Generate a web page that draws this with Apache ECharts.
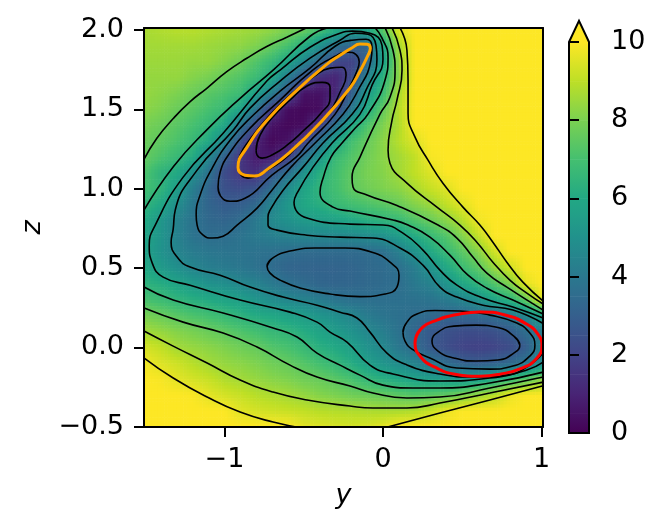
<!DOCTYPE html>
<html><head><meta charset="utf-8">
<script src="https://cdn.jsdelivr.net/npm/echarts@6/dist/echarts.min.js"></script>
<style>html,body{margin:0;padding:0;background:#fff}#c{width:664px;height:532px}</style>
</head><body><div id="c"></div>
<script>
const yTicks=[-1,0,1];
const zTicks=[-0.5,0,0.5,1,1.5,2];
const cbarTicks=[0,2,4,6,8,10];
const gridY=[-1.5,-1.4,-1.3,-1.2,-1.1,-1,-0.9,-0.8,-0.7,-0.6,-0.5,-0.4,-0.3,-0.2,-0.1,0,0.1,0.2,0.3,0.4,0.5,0.6,0.7,0.8,0.9,1];
const gridZ=[2,1.9,1.8,1.7,1.6,1.5,1.4,1.3,1.2,1.1,1,0.9,0.8,0.7,0.6,0.5,0.4,0.3,0.2,0.1,0,-0.1,-0.2,-0.3,-0.4,-0.5];
const energy=[
[8.7,8.8,8.9,8.9,8.8,8.7,8.6,8.5,8.3,8.0,7.7,7.05,6.25,5.6,6.05,7.45,9.5,10,10,10,10,10,10,10,10,10],
[8.6,8.6,8.6,8.6,8.5,8.4,8.3,8.05,7.6,7.05,6.15,4.95,3.8,3.25,3.25,5.8,8.6,10,10,10,10,10,10,10,10,10],
[8.5,8.5,8.5,8.4,8.4,8.15,7.8,7.25,6.7,5.8,4.6,3.25,2.2,1.9,3.25,5.6,8.4,10,10,10,10,10,10,10,10,10],
[8.4,8.4,8.4,8.15,7.95,7.6,7.25,6.8,5.95,4.15,2.6,1.3,1.0,2.3,4.4,6.4,8.25,10,10,10,10,10,10,10,10,10],
[8.4,8.25,8.05,7.7,7.4,7.15,6.8,5.6,4.15,2.6,0.5,0.5,1.1,3.0,5.4,6.8,8.7,10,10,10,10,10,10,10,10,10],
[8.25,8.05,7.7,7.4,7.05,6.7,5.8,3.85,1.6,0.35,0.2,0.3,2.0,3.95,6.05,7.6,8.9,10,10,10,10,10,10,10,10,10],
[7.95,7.7,7.4,7.05,6.6,5.95,3.95,2.2,0.5,0.2,0.3,1.8,3.8,5.95,7.15,8.05,8.8,10,10,10,10,10,10,10,10,10],
[7.7,7.5,7.15,6.7,6.05,4.6,2.6,1.0,0.2,0.5,1.8,3.8,5.7,6.95,7.6,8.25,8.9,9.5,10,10,10,10,10,10,10,10],
[7.6,7.15,6.7,6.15,4.6,3.1,1.6,0.7,0.7,1.7,3.8,5.25,6.7,7.25,7.8,8.25,8.6,9.05,9.9,10,10,10,10,10,10,10],
[7.15,6.4,6.05,4.95,3.8,2.3,1.6,1.3,2.7,3.7,5.05,6.25,6.95,7.5,7.95,8.15,8.6,9.05,9.5,10,10,10,10,10,10,10],
[6.95,6.5,5.6,4.25,3.25,2.5,2.3,2.6,3.6,4.8,5.8,6.5,6.95,7.5,7.8,8.05,8.25,8.7,9.15,9.5,10,10,10,10,10,10],
[6.5,5.95,4.95,3.95,3.25,2.9,3.0,3.4,4.5,5.25,5.95,6.25,6.7,6.95,7.15,7.4,7.7,8.15,8.5,9.05,9.6,10,10,10,10,10],
[6.05,5.25,4.4,3.8,3.4,3.25,3.5,4.05,4.7,5.05,5.4,5.55,5.7,5.95,6.25,6.5,6.7,7.25,7.7,8.25,8.9,9.8,10,10,10,10],
[5.8,5.15,4.4,3.8,3.6,3.6,3.8,4.05,4.25,4.4,4.5,4.55,4.6,4.65,4.75,4.95,5.45,6.05,6.65,7.25,8.1,9.05,10,10,10,10],
[5.7,5.05,4.5,4.15,3.95,3.85,3.8,3.75,3.7,3.55,3.5,3.45,3.45,3.45,3.5,3.65,4.25,5.05,5.95,6.7,7.4,8.15,9.25,10,10,10],
[5.95,5.4,4.95,4.5,4.25,4.1,3.95,3.75,3.5,3.25,3.2,3.2,3.2,3.25,3.4,3.5,3.7,4.2,5.05,5.95,6.8,7.4,8.4,9.25,10,10],
[6.4,6.15,5.8,5.4,5.05,4.9,4.6,4.4,4.05,3.7,3.5,3.3,3.25,3.3,3.4,3.5,3.6,4.05,4.4,5.15,5.9,6.5,7.25,8.05,9.6,10],
[7.05,6.8,6.5,6.25,6.05,5.8,5.6,5.15,4.8,4.6,4.45,4.15,3.85,3.7,3.65,3.65,3.7,3.75,3.85,4.15,4.5,5.05,5.8,6.4,7.6,9.6],
[7.95,7.7,7.4,7.15,6.95,6.7,6.4,6.1,5.95,5.7,5.5,5.15,4.9,4.55,4.15,3.85,3.7,3.55,3.4,3.3,3.3,3.4,3.55,3.95,4.6,5.8],
[8.6,8.4,8.15,7.95,7.7,7.5,7.2,6.95,6.65,6.5,6.15,5.8,5.45,5.05,4.65,4.25,3.75,3.3,2.8,2.5,2.35,2.35,2.5,2.9,3.6,4.15],
[9.35,9.05,8.6,8.4,8.25,8.05,7.8,7.6,7.25,7.05,6.7,6.25,6.0,5.6,5.05,4.6,3.95,3.5,2.8,2.35,2.0,1.9,2.0,2.3,2.9,4.4],
[9.8,9.5,9.25,8.9,8.6,8.4,8.25,8.05,7.8,7.6,7.3,6.95,6.6,6.15,5.6,5.15,4.75,4.4,3.95,3.55,3.1,2.9,3.1,3.4,3.95,4.7],
[10,9.9,9.6,9.35,9.15,8.8,8.6,8.4,8.2,8.05,7.8,7.65,7.4,7.05,6.6,6.25,5.95,5.7,5.55,5.45,5.3,5.5,6.05,6.7,7.4,8.25],
[10,10,10,9.95,9.6,9.35,9.15,8.9,8.75,8.6,8.4,8.15,8.0,7.8,7.7,7.6,7.45,7.3,7.4,7.55,7.95,8.5,8.9,9.7,10,10],
[10,10,10,10,10,10,9.55,9.35,9.25,9.15,9.05,8.9,8.85,8.8,8.75,8.7,8.7,8.8,9.15,9.7,10,10,10,10,10,10],
[10,10,10,10,10,10,10,10,10,10,9.6,9.5,9.4,9.35,9.4,9.6,10,10,10,10,10,10,10,10,10,10]
];
const viridis=['#440154','#482475','#414487','#355f8d','#2a788e','#21918c','#22a884','#44bf70','#7ad151','#bddf26','#fde725'];
const cbarBands=[0,0.5,1,1.5,2,2.5,3,3.5,4,4.5,5,5.5,6,6.5,7,7.5,8,8.5,9,9.5,10];
const cbarArrowTop=10.54;

const lvl1=[[-0.8,1.243],[-0.775,1.338],[-0.7,1.446],[-0.586,1.559],[-0.479,1.647],[-0.384,1.67],[-0.334,1.641],[-0.334,1.571],[-0.397,1.47],[-0.498,1.369],[-0.605,1.274],[-0.7,1.212],[-0.762,1.193],[-0.794,1.212]];
const lvl2=[[-0.914,1.149],[-0.895,1.086],[-0.851,1.067],[-0.756,1.104],[-0.63,1.18],[-0.523,1.288],[-0.347,1.47],[-0.271,1.608],[-0.233,1.715],[-0.258,1.766],[-0.334,1.76],[-0.441,1.703],[-0.586,1.59],[-0.731,1.444],[-0.851,1.294],[-0.901,1.212]];
const lvl3=[[-1.04,1.011],[-1.025,0.955],[-0.964,0.921],[-0.87,0.94],[-0.7,1.086],[-0.548,1.199],[-0.472,1.288],[-0.302,1.47],[-0.214,1.634],[-0.165,1.74],[-0.15,1.8],[-0.17,1.845],[-0.22,1.86],[-0.302,1.835],[-0.46,1.734],[-0.649,1.558],[-0.838,1.382],[-0.976,1.211],[-1.027,1.104]];
const lvl4=[[-1.077,0.689],[-1.008,0.701],[-0.92,0.771],[-0.794,0.878],[-0.699,0.992],[-0.58,1.136],[-0.428,1.288],[-0.252,1.47],[-0.164,1.608],[-0.076,1.81],[-0.069,1.892],[-0.107,1.942],[-0.195,1.936],[-0.302,1.898],[-0.46,1.76],[-0.649,1.615],[-0.819,1.463],[-0.964,1.306],[-1.077,1.13],[-1.153,0.96],[-1.178,0.834],[-1.172,0.771],[-1.134,0.707]];
const lvl4mid=[[-0.731,0.512],[-0.687,0.569],[-0.586,0.607],[-0.428,0.626],[-0.239,0.626],[-0.069,0.6],[0.044,0.537],[0.101,0.455],[0.088,0.38],[0.013,0.336],[-0.145,0.32],[-0.334,0.336],[-0.523,0.374],[-0.649,0.424],[-0.712,0.468]];
const lvl3right=[[0.863,0.014],[0.825,0.071],[0.725,0.125],[0.586,0.14],[0.447,0.134],[0.347,0.096],[0.309,0.04],[0.347,-0.023],[0.447,-0.067],[0.586,-0.086],[0.725,-0.08],[0.825,-0.036]];
const lvl4right=[[0.126,0.096],[0.151,0.159],[0.214,0.21],[0.328,0.232],[0.485,0.229],[0.674,0.203],[0.844,0.153],[0.926,0.09],[0.958,0.014],[0.926,-0.055],[0.819,-0.118],[0.674,-0.137],[0.466,-0.13],[0.296,-0.067],[0.183,-0.011],[0.139,0.04]];
const lvl5=[[1.01,0.15],[0.819,0.235],[0.63,0.266],[0.466,0.317],[0.359,0.38],[0.252,0.518],[0.107,0.626],[-0.063,0.689],[-0.271,0.695],[-0.479,0.707],[-0.668,0.739],[-0.725,0.771],[-0.725,0.821],[-0.712,0.865],[-0.63,0.991],[-0.504,1.136],[-0.378,1.288],[-0.195,1.47],[-0.107,1.621],[-0.038,1.816],[-0.044,1.904],[-0.095,1.974],[-0.176,1.98],[-0.271,1.936],[-0.46,1.823],[-0.649,1.678],[-0.838,1.508],[-0.945,1.369],[-1.172,1.117],[-1.31,0.865],[-1.323,0.745],[-1.336,0.663],[-1.298,0.569],[-1.216,0.506],[-1.027,0.455],[-0.838,0.38],[-0.63,0.317],[-0.416,0.266],[-0.271,0.222],[-0.164,0.185],[-0.082,0.096],[0.025,-0.036],[0.151,-0.111],[0.359,-0.168],[0.567,-0.187],[0.781,-0.175],[0.907,-0.124],[1.01,-0.036]];
const lvl6=[[1.01,0.185],[0.819,0.254],[0.63,0.311],[0.466,0.392],[0.359,0.487],[0.252,0.613],[0.126,0.72],[0,0.771],[-0.208,0.777],[-0.479,0.815],[-0.561,0.915],[-0.542,0.972],[-0.441,1.136],[-0.321,1.288],[-0.145,1.47],[-0.069,1.653],[0,1.816],[-0.006,1.904],[-0.082,1.98],[-0.195,1.993],[-0.271,1.98],[-0.46,1.892],[-0.649,1.747],[-0.731,1.68],[-1.008,1.35],[-1.26,1.073],[-1.436,0.771],[-1.474,0.644],[-1.455,0.531],[-1.386,0.443],[-1.216,0.392],[-0.901,0.298],[-0.586,0.222],[-0.416,0.159],[-0.334,0.096],[-0.227,0.033],[-0.082,-0.112],[0.063,-0.168],[0.359,-0.212],[0.674,-0.193],[0.907,-0.143],[1.01,-0.093]];
const lvl7a=[[-1.51,0.86],[-1.321,1.14],[-1.111,1.371],[-0.901,1.57],[-0.691,1.749],[-0.46,1.961],[-0.347,2.015]];
const lvl7b=[[-0.05,2.015],[-0.006,1.949],[0.032,1.829],[0.013,1.685],[-0.095,1.47],[-0.176,1.381],[-0.258,1.288],[-0.328,1.199],[-0.378,1.066],[-0.397,0.978],[-0.315,0.884],[-0.208,0.859],[0.063,0.803],[0.158,0.771],[0.296,0.695],[0.422,0.581],[0.536,0.455],[0.655,0.373],[0.819,0.298],[1.01,0.21]];
const lvl7c=[[-1.51,0.382],[-1.323,0.298],[-1.008,0.216],[-0.693,0.122],[-0.542,0.065],[-0.416,-0.036],[-0.271,-0.112],[-0.145,-0.175],[0,-0.238],[0.189,-0.256],[0.359,-0.256],[0.674,-0.225],[1.01,-0.156]];
const lvl8a=[[-1.51,1.18],[-1.426,1.318],[-1.321,1.444],[-1.216,1.549],[-1.111,1.633],[-0.985,1.738],[-0.859,1.822],[-0.733,1.896],[-0.607,1.955],[-0.481,2.015]];
const lvl8b=[[0.013,2.015],[0.063,1.873],[0.076,1.747],[0.044,1.577],[-0.019,1.47],[-0.145,1.199],[-0.195,1.073],[-0.189,1.011],[-0.101,0.96],[0.088,0.894],[0.347,0.771],[0.466,0.689],[0.567,0.569],[0.655,0.468],[0.781,0.38],[1.01,0.235]];
const lvl8c=[[-1.51,0.25],[-1.26,0.159],[-1.008,0.09],[-0.794,0.002],[-0.586,-0.112],[-0.416,-0.187],[-0.208,-0.244],[-0.063,-0.288],[0.151,-0.319],[0.359,-0.313],[0.674,-0.256],[1.01,-0.187]];
const lvl9a=[[0.057,2.015],[0.107,1.873],[0.12,1.747],[0.088,1.558],[0.057,1.432],[0.032,1.243],[0.044,1.161],[0.151,1.035],[0.34,0.884],[0.485,0.771],[0.592,0.663],[0.693,0.537],[0.8,0.424],[0.907,0.342],[1.01,0.273]];
const lvl9b=[[-1.51,0.105],[-1.323,0.008],[-1.109,-0.099],[-0.901,-0.206],[-0.693,-0.282],[-0.479,-0.332],[-0.208,-0.37],[-0.063,-0.382],[0.151,-0.382],[0.359,-0.351],[0.674,-0.288],[1.01,-0.219]];
const lvl10a=[[0.107,2.015],[0.151,1.873],[0.158,1.684],[0.158,1.476],[0.202,1.325],[0.284,1.18],[0.378,1.035],[0.504,0.884],[0.611,0.771],[0.693,0.663],[0.781,0.537],[0.882,0.411],[1.01,0.292]];
const lvl10b=[[-1.51,-0.064],[-1.323,-0.193],[-1.109,-0.313],[-0.901,-0.408],[-0.693,-0.471],[-0.504,-0.51]];
const lvl10c=[[0,-0.51],[0.359,-0.414],[0.674,-0.332],[1.01,-0.242]];
const orangeBasin=[[-0.914,1.136],[-0.905,1.105],[-0.87,1.085],[-0.81,1.08],[-0.725,1.125],[-0.586,1.231],[-0.397,1.414],[-0.208,1.635],[-0.145,1.74],[-0.095,1.84],[-0.08,1.885],[-0.1,1.91],[-0.145,1.912],[-0.2,1.885],[-0.271,1.841],[-0.353,1.785],[-0.542,1.621],[-0.731,1.432],[-0.857,1.262]];
const redBasin=[[0.202,0.027],[0.233,0.109],[0.34,0.172],[0.485,0.21],[0.611,0.223],[0.769,0.204],[0.895,0.153],[0.977,0.084],[1.002,0.008],[0.97,-0.068],[0.876,-0.131],[0.737,-0.169],[0.611,-0.182],[0.454,-0.169],[0.328,-0.125],[0.239,-0.062]];

const closedContours=[lvl1,lvl2,lvl3,lvl4,lvl4mid,lvl3right,lvl4right];
const openContours=[lvl5,lvl6,lvl7a,lvl7b,lvl7c,lvl8a,lvl8b,lvl8c,lvl9a,lvl9b,lvl10a,lvl10b,lvl10c];

function hex(c){return [1,3,5].map(i=>parseInt(c.substr(i,2),16));}
const vir=viridis.map(hex);
function colorOf(v){
  let t=Math.max(0,Math.min(10,v));
  let i=Math.min(9,Math.floor(t)),f=t-i;
  const a=vir[i],b=vir[i+1];
  return 'rgb('+a.map((x,k)=>Math.round(x+(b[k]-x)*f)).join(',')+')';
}
const nodes=[];
gridZ.forEach((z,j)=>gridY.forEach((y,i)=>nodes.push([y,z,energy[j][i],i,j])));
const SUB=5;
function renderField(params,api){
  const i=api.value(3),j=api.value(4);
  if(i>=gridY.length-1||j>=gridZ.length-1)return null;
  const p0=api.coord([gridY[i],gridZ[j]]),p1=api.coord([gridY[i+1],gridZ[j+1]]);
  const w=(p1[0]-p0[0])/SUB,h=(p1[1]-p0[1])/SUB;
  const a=energy[j][i],b=energy[j][i+1],c=energy[j+1][i],d=energy[j+1][i+1];
  const ch=[];
  for(let m=0;m<SUB;m++)for(let n=0;n<SUB;n++){
    const u=(n+0.5)/SUB,s=(m+0.5)/SUB;
    const v=a*(1-u)*(1-s)+b*u*(1-s)+c*(1-u)*s+d*u*s;
    let x=p0[0]+n*w,yy=p0[1]+m*h,ww=w+0.6,hh=h+0.6;
    if(i===0&&n===0){x-=4;ww+=4;}
    if(j===0&&m===0){yy-=4;hh+=4;}
    if(i===gridY.length-2&&n===SUB-1)ww+=4;
    if(j===gridZ.length-2&&m===SUB-1)hh+=4;
    ch.push({type:'rect',shape:{x:x,y:yy,width:ww,height:hh},style:{fill:colorOf(v)}});
  }
  return {type:'group',children:ch};
}
function renderBand(params,api){
  const v=api.value(0),next=cbarBands[params.dataIndex+1];
  if(next===undefined)return null;
  const a=api.coord([0,v]),b=api.coord([1,next]);
  return {type:'rect',shape:{x:a[0],y:b[1],width:b[0]-a[0],height:a[1]-b[1]+0.5},
    style:{fill:new echarts.graphic.LinearGradient(0,1,0,0,[{offset:0,color:colorOf(v)},{offset:1,color:colorOf(next)}])}};
}
function renderArrow(params,api){
  const pts=[api.coord([0,0]),api.coord([1,0]),api.coord([1,10]),api.coord([0.5,cbarArrowTop]),api.coord([0,10])];
  const tri=[pts[2],pts[3],pts[4]];
  return {type:'group',children:[
    {type:'polygon',shape:{points:tri},style:{fill:'#fde725',stroke:null}},
    {type:'polygon',shape:{points:pts},style:{fill:'none',stroke:'#000',lineWidth:2}}
  ]};
}
const lineBase={type:'line',showSymbol:false,symbol:'none',smooth:0.5,clip:true,silent:true,animation:false,xAxisIndex:0,yAxisIndex:0,z:5};
const closeLoop=c=>c.concat([c[0],c[1]]);
const series=[{type:'custom',renderItem:renderField,data:nodes,encode:{x:0,y:1},clip:true,silent:true,animation:false,xAxisIndex:0,yAxisIndex:0,z:2,progressive:0}];
closedContours.forEach(c=>series.push(Object.assign({},lineBase,{data:closeLoop(c),lineStyle:{color:'#000',width:1.6}})));
openContours.forEach(c=>series.push(Object.assign({},lineBase,{data:c,lineStyle:{color:'#000',width:1.6}})));
series.push(Object.assign({},lineBase,{data:closeLoop(orangeBasin),lineStyle:{color:'#ffa500',width:3},z:6}));
series.push(Object.assign({},lineBase,{data:closeLoop(redBasin),lineStyle:{color:'#ff0000',width:3},z:6}));
series.push({type:'custom',renderItem:renderBand,data:cbarBands.map(v=>[v]),encode:{y:0},clip:false,silent:true,animation:false,xAxisIndex:2,yAxisIndex:2,z:2,progressive:0});
series.push({type:'custom',renderItem:renderArrow,data:[[0]],encode:{y:0},clip:false,silent:true,animation:false,xAxisIndex:2,yAxisIndex:2,z:6});

const FONT='"DejaVu Sans"';
const minus=v=>String(v).replace('-','\u2212');
const fmtZ=v=>minus(Number(v).toFixed(1));
const lineSt={show:true,onZero:false,lineStyle:{color:'#000',width:2}};
const tickSt={show:true,length:10,lineStyle:{color:'#000',width:2}};
const labSt={color:'#000',fontFamily:FONT,fontSize:27};
const option={
  animation:false,backgroundColor:'#fff',
  grid:[{left:144,top:28,width:399,height:399},{left:569,top:42,width:20,height:391}],
  xAxis:[
   {type:'value',gridIndex:0,min:-1.507,max:1.009,position:'bottom',z:10,splitLine:{show:false},axisLine:lineSt,
    axisTick:Object.assign({customValues:yTicks},tickSt),
    axisLabel:Object.assign({customValues:yTicks,formatter:v=>minus(Math.round(v)),margin:19,hideOverlap:false},labSt),
    name:'y',nameLocation:'middle',nameGap:55,nameTextStyle:{color:'#000',fontFamily:FONT,fontSize:27,fontStyle:'italic'}},
   {type:'value',gridIndex:0,min:-1.507,max:1.009,position:'top',z:10,splitLine:{show:false},axisLine:lineSt,axisTick:{show:false},axisLabel:{show:false}},
   {type:'value',gridIndex:1,min:0,max:1,show:false}
  ],
  yAxis:[
   {type:'value',gridIndex:0,min:-0.502,max:2.013,position:'left',z:10,splitLine:{show:false},axisLine:lineSt,
    axisTick:Object.assign({customValues:zTicks},tickSt),
    axisLabel:Object.assign({customValues:zTicks,formatter:fmtZ,margin:20},labSt),
    name:'z',nameLocation:'middle',nameGap:98,nameRotate:90,nameTextStyle:{color:'#000',fontFamily:FONT,fontSize:27,fontStyle:'italic'}},
   {type:'value',gridIndex:0,min:-0.502,max:2.013,position:'right',z:10,splitLine:{show:false},axisLine:lineSt,axisTick:{show:false},axisLabel:{show:false}},
   {type:'value',gridIndex:1,min:0,max:10,position:'right',z:10,splitLine:{show:false},axisLine:{show:false},
    axisTick:Object.assign({customValues:cbarTicks},tickSt),
    axisLabel:Object.assign({customValues:cbarTicks,margin:22},labSt)}
  ],
  series:series
};
const chart=echarts.init(document.getElementById('c'),null,{renderer:'canvas'});
chart.setOption(option);
</script></body></html>
